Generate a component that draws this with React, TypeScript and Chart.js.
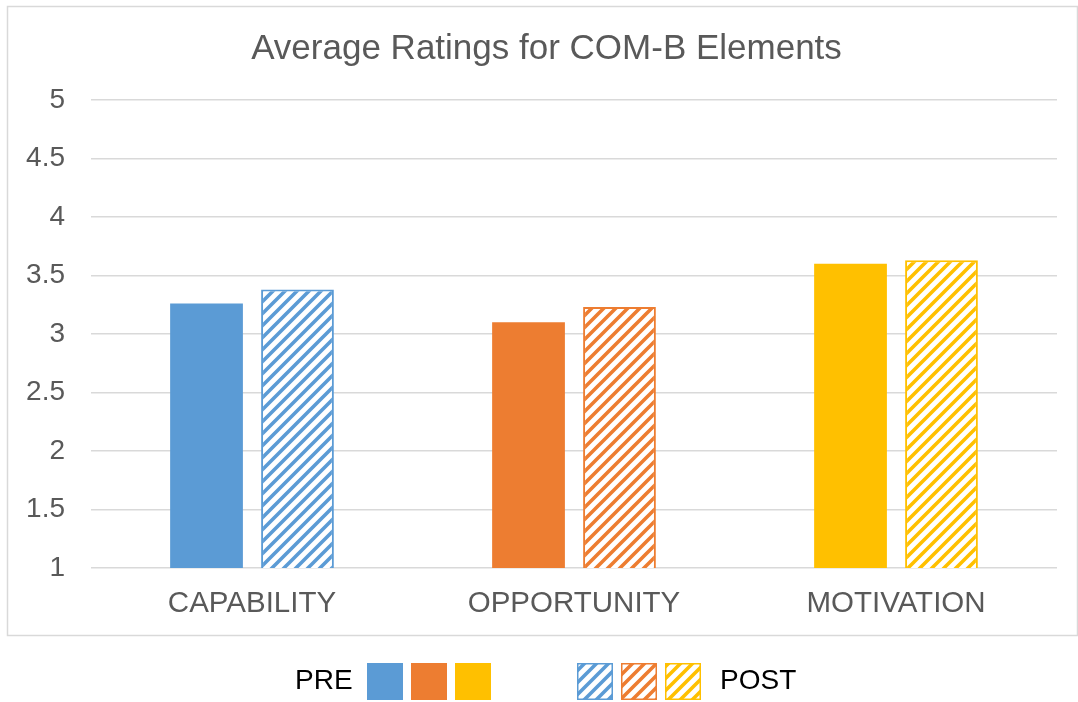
import React, { useEffect, useRef } from "react";
import { Chart, registerables } from "chart.js";

Chart.register(...registerables);

const titleText = "Average Ratings for COM-B Elements";
const categories = ["CAPABILITY", "OPPORTUNITY", "MOTIVATION"];
const preValues = [3.26, 3.1, 3.6];
const postValues = [3.38, 3.23, 3.63];
const seriesColors = ["#5B9BD5", "#ED7D31", "#FFC000"];
const legendLabels = ["PRE", "POST"];
const yMin = 1;
const yMax = 5;
const yStep = 0.5;

const FONT = "'Liberation Sans', Arial, sans-serif";
const TEXT_GREY = "#595959";
const GRID = "#d9d9d9";

function makeHatch(ctx: CanvasRenderingContext2D, color: string): CanvasPattern {
  const size = 12;
  const c = document.createElement("canvas");
  c.width = size;
  c.height = size;
  const p = c.getContext("2d")!;
  p.fillStyle = "#ffffff";
  p.fillRect(0, 0, size, size);
  p.strokeStyle = color;
  p.lineWidth = 3.6;
  p.lineCap = "square";
  p.beginPath();
  p.moveTo(-2, size + 2);
  p.lineTo(size + 2, -2);
  p.moveTo(-size / 2 - 2, size / 2 + 2);
  p.lineTo(size / 2 + 2, -size / 2 - 2);
  p.moveTo(size / 2 - 2, size * 1.5 + 2);
  p.lineTo(size * 1.5 + 2, size / 2 - 2);
  p.stroke();
  return ctx.createPattern(c, "repeat")!;
}

export default function App() {
  const canvasRef = useRef<HTMLCanvasElement | null>(null);

  useEffect(() => {
    const canvas = canvasRef.current;
    if (!canvas) return;
    const ctx = canvas.getContext("2d")!;
    const hatches = seriesColors.map((c) => makeHatch(ctx, c));

    const framePlugin = {
      id: "frame",
      afterLayout(chart: any) {
        const t = chart.titleBlock;
        if (t) {
          t.left += 14;
          t.right += 14;
        }
      },
      beforeDraw(chart: any) {
        const c = chart.ctx;
        c.save();
        c.fillStyle = "#ffffff";
        c.fillRect(0, 0, chart.width, chart.height);
        c.strokeStyle = GRID;
        c.lineWidth = 1.5;
        c.strokeRect(7.5, 6.5, 1070, 629);
        c.restore();
      },
      afterDraw(chart: any) {
        const c = chart.ctx;
        c.save();
        c.font = `28px ${FONT}`;
        c.fillStyle = "#000000";
        c.textBaseline = "middle";
        c.textAlign = "left";
        const ly = 681;
        const bw = 36;
        const bh = 37;
        const top = 663;
        c.fillText(legendLabels[0], 295, ly);
        const preX = [367, 411, 455];
        preX.forEach((x, i) => {
          c.fillStyle = seriesColors[i];
          c.fillRect(x, top, bw, bh);
        });
        const postX = [577, 621, 665];
        postX.forEach((x, i) => {
          c.fillStyle = hatches[i];
          c.fillRect(x, top, bw, bh);
          c.strokeStyle = seriesColors[i];
          c.lineWidth = 1.5;
          c.strokeRect(x + 0.75, top + 0.75, bw - 1.5, bh - 1.5);
        });
        c.fillStyle = "#000000";
        c.fillText(legendLabels[1], 720, ly);
        c.restore();
      },
    };

    const chart = new Chart(canvas, {
      type: "bar",
      data: {
        labels: categories,
        datasets: [
          {
            label: legendLabels[0],
            data: preValues,
            backgroundColor: seriesColors,
            borderWidth: 0,
          },
          {
            label: legendLabels[1],
            data: postValues,
            backgroundColor: hatches as any,
            borderColor: seriesColors,
            borderWidth: 2,
            borderSkipped: false,
          },
        ],
      },
      options: {
        responsive: false,
        animation: false,
        events: [],
        datasets: {
          bar: {
            categoryPercentage: 0.565,
            barPercentage: 0.8,
          },
        },
        layout: {
          padding: { left: 8, right: 21, top: 8, bottom: 84 },
        },
        plugins: {
          legend: { display: false },
          tooltip: { enabled: false },
          title: {
            display: true,
            text: titleText,
            color: TEXT_GREY,
            font: { family: FONT, size: 35, weight: "normal" },
            padding: { top: 20, bottom: 30 },
          },
        },
        scales: {
          x: {
            grid: { display: false, drawTicks: false },
            border: { display: false },
            ticks: {
              color: TEXT_GREY,
              font: { family: FONT, size: 29.5 },
              padding: 18,
              maxRotation: 0,
            },
            afterFit(scale: any) {
              scale.height = 50;
            },
          },
          y: {
            min: yMin,
            max: yMax,
            grid: { color: GRID, lineWidth: 1.5, drawTicks: false },
            border: { display: false },
            ticks: {
              stepSize: yStep,
              color: TEXT_GREY,
              font: { family: FONT, size: 28 },
              padding: 26,
              callback: (v: any) => String(Number(v)),
            },
            afterFit(scale: any) {
              scale.width = 83;
            },
          },
        },
      },
      plugins: [framePlugin],
    });

    return () => chart.destroy();
  }, []);

  return (
    <div style={{ position: "fixed", left: 0, top: 0, width: 1078, height: 702, background: "#fff" }}>
      <canvas ref={canvasRef} width={1078} height={702} style={{ display: "block" }} />
    </div>
  );
}
